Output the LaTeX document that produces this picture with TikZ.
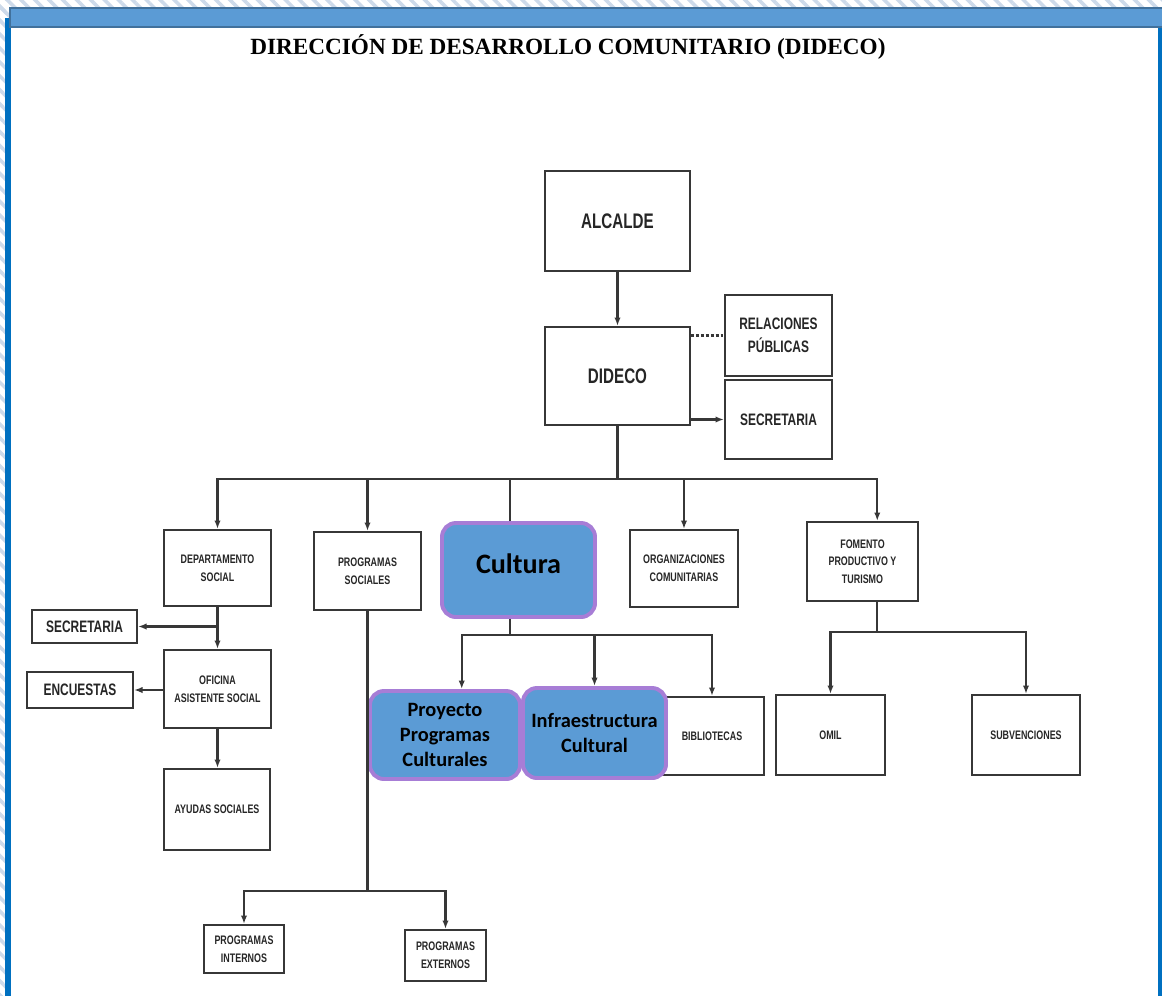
\documentclass[tikz,border=0pt]{standalone}
\usepackage{fontspec}
\usetikzlibrary{arrows.meta,patterns.meta}

\newfontfamily\cajafont[FakeStretch=0.72]{Liberation Sans}
\newfontfamily\titulofont{Liberation Serif}
\newfontfamily\azulfont{Carlito}

\definecolor{azulbarra}{RGB}{91,155,213}
\definecolor{azulborde}{RGB}{65,113,156}
\definecolor{azullinea}{RGB}{0,112,192}
\definecolor{lila}{RGB}{167,125,214}
\definecolor{trazo}{RGB}{55,55,55}
\definecolor{rayas}{RGB}{205,218,234}

\tikzset{
  caja/.style={draw=trazo, line width=1.5pt, fill=white, align=center, inner sep=0pt,
    text=black!85, font=\cajafont\bfseries\fontsize{8.8}{12.5}\selectfont},
  cajagrande/.style={caja, font=\cajafont\bfseries\fontsize{15}{18}\selectfont},
  cajamedia/.style={caja, font=\cajafont\bfseries\fontsize{11.8}{16}\selectfont},
  cajaazul/.style={draw=lila, line width=2.8pt, fill=azulbarra, rounded corners=10pt,
    align=center, inner sep=0pt, text=black, font=\azulfont\bfseries\fontsize{14.5}{17.5}\selectfont},
  flecha/.style={draw=trazo, line width=1.5pt, -{Latex[length=6pt,width=4.5pt]}},
  linea/.style={draw=trazo, line width=1.5pt},
}

\begin{document}
\begin{tikzpicture}[x=0.025cm, y=-0.025cm]
\useasboundingbox (0,0) rectangle (1162,995);

% Marco de la pagina
\fill[white] (0,0) rectangle (1162,995);
\fill[pattern={Lines[angle=-45,distance=7pt,line width=2.5pt]}, pattern color=rayas] (0,0) rectangle (1162,20);
\fill[pattern={Lines[angle=-45,distance=7pt,line width=2.5pt]}, pattern color=rayas] (0,0) rectangle (6,1000);
\fill[azullinea] (5,18) rectangle (11,1000);
\fill[azullinea] (1158,28) rectangle (1165,1000);
\fill[white] (11,27) rectangle (1158,1000);
\filldraw[fill=azulbarra, draw=azulborde, line width=1.5pt] (10,8) rectangle (1175,27);

\node[font=\titulofont\bfseries\fontsize{16.5}{20}\selectfont] (titulo) at (568,47)
  {DIRECCIÓN DE DESARROLLO COMUNITARIO (DIDECO)};

% Nivel superior
\node[cajagrande, minimum width=3.625cm, minimum height=2.5cm] (alcalde) at (617.5,221) {ALCALDE};
\node[cajagrande, minimum width=3.625cm, minimum height=2.45cm] (dideco) at (617.5,376) {DIDECO};
\node[cajamedia, minimum width=2.675cm, minimum height=2.025cm] (relaciones) at (778.5,335.5) {RELACIONES\\PÚBLICAS};
\node[cajamedia, minimum width=2.675cm, minimum height=1.975cm] (secretaria) at (778.5,419.5) {SECRETARIA};

% Departamentos
\node[caja, minimum width=2.675cm, minimum height=1.9cm] (depto) at (217.5,568) {DEPARTAMENTO\\SOCIAL};
\node[caja, minimum width=2.675cm, minimum height=1.95cm] (progsoc) at (367.5,571) {PROGRAMAS\\SOCIALES};
\node[cajaazul, minimum width=3.825cm, minimum height=2.35cm, text depth=9pt,
  font=\azulfont\bfseries\fontsize{20}{24}\selectfont] (cultura) at (518.5,570) {Cultura};
\node[caja, minimum width=2.7cm, minimum height=1.925cm] (org) at (684,568.5) {ORGANIZACIONES\\COMUNITARIAS};
\node[caja, minimum width=2.775cm, minimum height=1.975cm] (fomento) at (862.5,561.5) {FOMENTO\\PRODUCTIVO Y\\TURISMO};

% Departamento social
\node[cajamedia, minimum width=2.625cm, minimum height=0.825cm] (secretaria2) at (84.5,626.5) {SECRETARIA};
\node[caja, minimum width=2.675cm, minimum height=1.95cm] (oficina) at (217.5,689) {OFICINA\\ASISTENTE SOCIAL};
\node[cajamedia, minimum width=2.65cm, minimum height=0.9cm] (encuestas) at (80,690) {ENCUESTAS};
\node[caja, minimum width=2.65cm, minimum height=2.025cm] (ayudas) at (217,809.5) {AYUDAS SOCIALES};

% Programas sociales
\node[caja, minimum width=2.0cm, minimum height=1.2cm] (internos) at (244,949) {PROGRAMAS\\INTERNOS};
\node[caja, minimum width=2.025cm, minimum height=1.275cm] (externos) at (445.5,955.5) {PROGRAMAS\\EXTERNOS};

% Cultura
\node[caja, minimum width=2.6cm, minimum height=1.95cm] (bibliotecas) at (712,736) {BIBLIOTECAS};
\node[cajaazul, minimum width=3.75cm, minimum height=2.2cm] (proyecto) at (445,735) {Proyecto\\Programas\\Culturales};
\node[cajaazul, minimum width=3.575cm, minimum height=2.25cm] (infra) at (594.5,733) {Infraestructura\\Cultural};

% Fomento productivo
\node[caja, minimum width=2.725cm, minimum height=2.0cm] (omil) at (830.5,735) {OMIL};
\node[caja, minimum width=2.7cm, minimum height=2.0cm] (subvenciones) at (1026,735) {SUBVENCIONES};

% Conectores
\draw[flecha] (alcalde.south) -- (dideco.north);
\draw[linea, dash pattern=on 2pt off 1.5pt] (dideco.east |- relaciones.west) -- (relaciones.west);
\draw[flecha] (dideco.east |- secretaria.west) -- (secretaria.west);

\draw[linea] (dideco.south) -- ++(0,53) coordinate (bus);
\foreach \n in {depto,progsoc,org}
  \draw[flecha] (bus) -| (\n.north);
\draw[flecha] (bus) -| (fomento.70);
\draw[linea] (bus) -| (cultura.100);

\draw[flecha] (depto.south) -- (oficina.north);
\draw[flecha] (depto.south |- secretaria2.east) -- (secretaria2.east);
\draw[flecha] (encuestas.east -| oficina.west) -- (encuestas.east);
\draw[flecha] (oficina.south) -- (oficina.south |- ayudas.north);

\draw[linea] (progsoc.south) -- ++(0,280) coordinate (bus2);
\draw[flecha] (bus2) -| (internos.north);
\draw[flecha] (bus2) -| (externos.north);

\draw[linea] (cultura.260) -- ++(0,16) coordinate (bus3);
\draw[flecha] (bus3) -| (proyecto.70);
\draw[flecha] (bus3) -| (infra.north);
\draw[flecha] (bus3) -| (bibliotecas.north);

\draw[linea] (fomento.290) -- ++(0,30) coordinate (bus4);
\draw[flecha] (bus4) -| (omil.north);
\draw[flecha] (bus4) -| (subvenciones.north);

\end{tikzpicture}
\end{document}
